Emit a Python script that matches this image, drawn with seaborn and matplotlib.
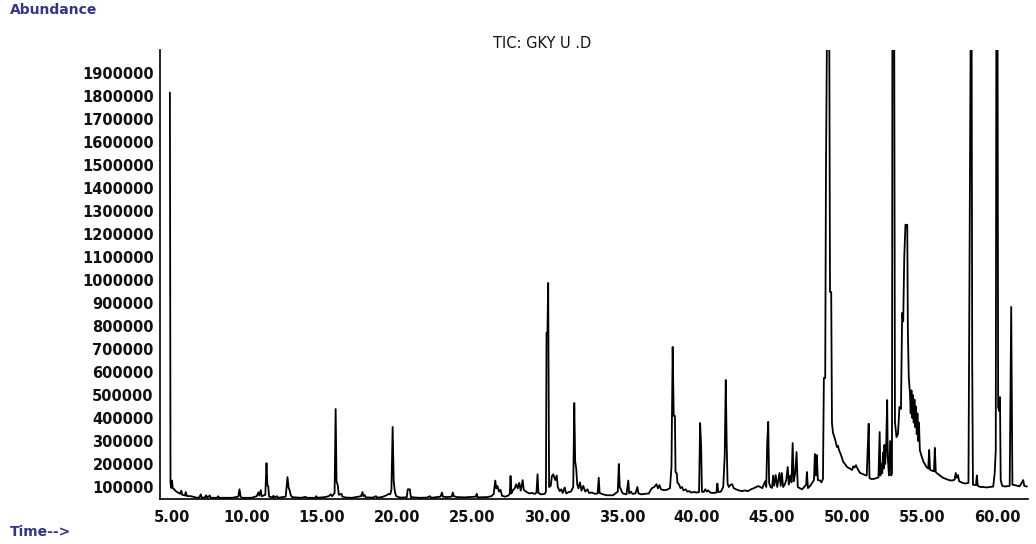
import matplotlib
matplotlib.use("Agg")
import matplotlib.pyplot as plt
import seaborn as sns
import pandas as pd
from matplotlib.ticker import MultipleLocator, FixedLocator

# Total ion chromatogram: (retention time [min], abundance) read as a step trace
seg_solvent = [
    (4.86, 1815e3), (4.90, 118e3), (4.95, 96e3), (5.00, 128e3), (5.05, 95e3),
    (5.15, 90e3), (5.25, 82e3), (5.40, 76e3), (5.55, 70e3), (5.62, 84e3),
    (5.68, 66e3), (5.85, 63e3), (5.92, 78e3), (5.98, 61e3), (6.25, 60e3),
    (6.45, 57e3), (6.60, 54e3), (6.80, 53e3), (6.92, 68e3), (6.98, 53e3),
    (7.20, 55e3), (7.28, 64e3), (7.34, 53e3), (7.52, 63e3), (7.58, 53e3),
    (8.00, 53e3), (8.08, 60e3), (8.14, 53e3), (9.00, 53e3), (9.42, 58e3),
    (9.50, 90e3), (9.57, 60e3), (9.65, 53e3), (10.30, 53e3), (10.65, 60e3),
    (10.75, 76e3), (10.82, 63e3), (10.92, 86e3), (10.98, 60e3), (11.22, 66e3),
    (11.30, 204e3), (11.36, 108e3), (11.42, 102e3), (11.47, 58e3), (11.70, 55e3),
    (11.76, 62e3), (11.82, 54e3), (12.00, 60e3), (12.06, 53e3), (12.58, 58e3),
    (12.70, 143e3), (12.77, 98e3), (12.84, 86e3), (12.92, 64e3), (13.00, 56e3),
    (13.60, 53e3),
]

seg_early = [
    (13.90, 57e3), (14.00, 53e3), (14.55, 53e3), (14.62, 60e3), (14.68, 53e3),
    (15.20, 56e3), (15.45, 60e3), (15.58, 68e3), (15.68, 60e3), (15.84, 74e3),
    (15.91, 439e3), (15.97, 124e3), (16.05, 108e3), (16.12, 66e3), (16.30, 70e3),
    (16.36, 58e3), (16.60, 54e3), (17.00, 53e3), (17.60, 60e3), (17.70, 78e3),
    (17.76, 60e3), (17.85, 65e3), (17.91, 55e3), (18.40, 54e3), (18.60, 60e3),
    (18.66, 54e3), (19.00, 56e3), (19.30, 64e3), (19.45, 70e3), (19.55, 68e3),
    (19.63, 88e3), (19.71, 361e3), (19.78, 128e3), (19.86, 78e3), (19.95, 60e3),
    (20.20, 54e3), (20.65, 55e3), (20.72, 90e3), (20.86, 90e3), (20.92, 56e3),
    (21.50, 53e3), (22.00, 54e3), (22.20, 60e3), (22.28, 53e3), (22.90, 58e3),
    (23.00, 76e3), (23.06, 58e3), (23.30, 56e3), (23.65, 58e3), (23.72, 76e3),
    (23.79, 60e3), (24.00, 56e3), (24.50, 55e3), (25.25, 58e3), (25.32, 70e3),
    (25.38, 55e3), (26.00, 56e3), (26.30, 60e3),
]

seg_middle = [
    (26.45, 70e3), (26.55, 128e3), (26.62, 94e3), (26.70, 104e3), (26.80, 80e3),
    (26.90, 88e3), (27.00, 62e3), (27.20, 58e3), (27.40, 62e3), (27.52, 70e3),
    (27.57, 148e3), (27.63, 72e3), (27.75, 88e3), (27.85, 94e3), (27.95, 112e3),
    (28.05, 94e3), (28.15, 118e3), (28.25, 84e3), (28.38, 130e3), (28.45, 88e3),
    (28.60, 80e3), (28.80, 72e3), (29.00, 74e3), (29.20, 70e3), (29.30, 76e3),
    (29.37, 155e3), (29.43, 74e3), (29.60, 68e3), (29.85, 70e3), (29.93, 80e3),
    (29.97, 770e3), (30.03, 770e3), (30.08, 987e3), (30.14, 100e3), (30.25, 105e3),
    (30.33, 148e3), (30.42, 155e3), (30.55, 130e3), (30.65, 150e3), (30.72, 100e3),
    (30.85, 82e3), (30.95, 90e3), (31.05, 74e3), (31.18, 98e3), (31.28, 72e3),
    (31.45, 78e3), (31.60, 80e3), (31.75, 100e3), (31.82, 465e3), (31.88, 210e3),
    (31.95, 180e3), (32.02, 110e3), (32.10, 94e3), (32.20, 120e3), (32.30, 84e3),
    (32.42, 105e3), (32.55, 80e3), (32.70, 90e3), (32.80, 74e3), (33.00, 76e3),
    (33.20, 70e3), (33.38, 72e3), (33.45, 140e3), (33.51, 74e3), (33.65, 70e3),
    (33.80, 67e3), (34.00, 64e3), (34.40, 64e3), (34.60, 74e3), (34.72, 80e3),
    (34.79, 200e3), (34.85, 100e3), (34.95, 86e3), (35.05, 72e3), (35.30, 68e3),
    (35.42, 128e3), (35.48, 72e3), (35.60, 80e3), (35.70, 70e3), (35.90, 72e3),
    (36.03, 100e3), (36.10, 72e3), (36.30, 68e3), (36.50, 70e3), (36.80, 72e3),
    (36.90, 86e3), (37.00, 95e3), (37.15, 100e3), (37.30, 112e3), (37.40, 94e3),
    (37.50, 108e3), (37.60, 90e3), (37.80, 86e3), (38.00, 88e3), (38.20, 95e3),
]

seg_late = [
    (38.30, 187e3), (38.38, 709e3), (38.45, 409e3), (38.53, 409e3), (38.57, 165e3),
    (38.65, 160e3), (38.70, 118e3), (38.80, 112e3), (38.90, 95e3), (39.00, 100e3),
    (39.10, 85e3), (39.25, 90e3), (39.35, 80e3), (39.50, 82e3), (39.60, 76e3),
    (39.80, 78e3), (40.00, 76e3), (40.14, 78e3), (40.21, 378e3), (40.28, 272e3),
    (40.33, 80e3), (40.45, 78e3), (40.55, 90e3), (40.65, 80e3), (40.75, 85e3),
    (40.90, 75e3), (41.10, 74e3), (41.30, 76e3), (41.36, 115e3), (41.42, 78e3),
    (41.60, 80e3), (41.75, 100e3), (41.85, 235e3), (41.92, 565e3), (41.98, 290e3),
    (42.04, 115e3), (42.12, 100e3), (42.25, 110e3), (42.35, 112e3), (42.45, 95e3),
    (42.60, 90e3), (42.80, 85e3), (43.00, 82e3), (43.20, 85e3), (43.40, 82e3),
    (43.60, 90e3), (43.80, 95e3), (43.95, 100e3), (44.10, 104e3), (44.35, 95e3),
    (44.55, 125e3), (44.62, 100e3), (44.68, 282e3), (44.75, 383e3), (44.81, 118e3),
    (44.90, 100e3), (45.00, 96e3), (45.08, 150e3), (45.15, 105e3), (45.25, 152e3),
    (45.35, 100e3), (45.50, 161e3), (45.58, 105e3), (45.66, 161e3), (45.74, 100e3),
    (45.85, 110e3), (45.95, 130e3), (46.05, 187e3), (46.12, 110e3), (46.22, 150e3),
    (46.30, 120e3), (46.38, 291e3), (46.45, 125e3), (46.55, 160e3), (46.64, 252e3),
    (46.72, 100e3), (46.85, 95e3), (47.00, 90e3), (47.15, 100e3), (47.28, 110e3),
    (47.33, 165e3), (47.40, 95e3), (47.55, 105e3), (47.70, 120e3), (47.80, 130e3),
    (47.86, 243e3), (47.93, 150e3), (47.99, 239e3), (48.06, 130e3), (48.20, 128e3),
    (48.30, 120e3), (48.40, 135e3),
]

seg_major = [
    (48.46, 574e3), (48.55, 574e3), (48.60, 1470e3), (48.67, 2100e3), (48.82, 2100e3),
    (48.87, 948e3), (48.95, 948e3), (49.00, 378e3), (49.07, 335e3), (49.15, 320e3),
    (49.22, 304e3), (49.33, 274e3), (49.40, 280e3), (49.47, 260e3), (49.55, 248e3),
    (49.65, 230e3), (49.75, 209e3), (49.87, 200e3), (50.00, 187e3), (50.20, 180e3),
    (50.35, 174e3), (50.42, 190e3), (50.52, 185e3), (50.60, 195e3), (50.70, 180e3),
    (50.87, 161e3), (51.00, 158e3), (51.20, 152e3), (51.32, 150e3), (51.38, 262e3),
    (51.45, 375e3), (51.50, 140e3), (51.60, 135e3), (51.80, 135e3), (52.00, 140e3),
    (52.10, 142e3), (52.18, 339e3), (52.23, 150e3), (52.30, 200e3), (52.35, 160e3),
    (52.40, 250e3), (52.45, 180e3), (52.50, 283e3), (52.55, 200e3), (52.62, 290e3),
    (52.68, 478e3), (52.72, 230e3), (52.80, 150e3), (52.88, 300e3), (52.95, 150e3),
    (53.00, 160e3), (53.03, 2100e3), (53.15, 2100e3), (53.20, 383e3), (53.30, 317e3),
    (53.40, 330e3), (53.50, 448e3), (53.60, 440e3), (53.68, 857e3), (53.75, 820e3),
    (53.82, 1100e3), (53.90, 1240e3), (54.02, 1240e3), (54.06, 783e3), (54.12, 578e3),
    (54.20, 509e3), (54.25, 420e3), (54.30, 520e3), (54.35, 400e3), (54.40, 500e3),
    (54.45, 380e3), (54.50, 480e3), (54.55, 360e3), (54.60, 450e3), (54.65, 330e3),
    (54.70, 420e3), (54.75, 300e3), (54.80, 380e3), (54.86, 260e3), (54.95, 239e3),
]

seg_tail = [
    (55.10, 210e3), (55.30, 187e3), (55.42, 180e3), (55.48, 261e3), (55.54, 175e3),
    (55.70, 170e3), (55.80, 168e3), (55.86, 270e3), (55.92, 165e3), (56.00, 160e3),
    (56.20, 150e3), (56.40, 140e3), (56.60, 135e3), (56.80, 130e3), (57.00, 128e3),
    (57.18, 132e3), (57.25, 161e3), (57.32, 140e3), (57.40, 152e3), (57.48, 125e3),
    (57.70, 118e3), (57.90, 115e3), (58.10, 118e3), (58.18, 1170e3), (58.25, 2100e3),
    (58.31, 2100e3), (58.35, 643e3), (58.40, 110e3), (58.60, 108e3), (58.66, 150e3),
    (58.72, 105e3), (58.90, 100e3), (59.10, 100e3), (59.30, 98e3), (59.55, 100e3),
    (59.75, 102e3), (59.85, 160e3), (59.92, 260e3), (59.96, 2100e3), (60.04, 2100e3),
    (60.08, 448e3), (60.15, 430e3), (60.20, 491e3), (60.25, 130e3), (60.35, 105e3),
    (60.55, 102e3), (60.85, 105e3), (60.95, 883e3), (61.03, 110e3), (61.20, 108e3),
    (61.50, 103e3), (61.60, 112e3), (61.75, 130e3), (61.82, 105e3), (62.00, 102e3),
]

y_ticks = [100000 * k for k in range(1, 20)]
x_ticks = [5, 10, 15, 20, 25, 30, 35, 40, 45, 50, 55, 60]

trace = seg_solvent + seg_early + seg_middle + seg_late + seg_major + seg_tail
df = pd.DataFrame(trace, columns=["time", "abundance"])

sns.set_style("white")
plt.rcParams["font.family"] = ["DejaVu Sans"]

W, H = 1036, 544
fig = plt.figure(figsize=(W / 100, H / 100), dpi=100)
ax = fig.add_axes([160 / W, 1 - 499 / H, (1028 - 160) / W, (499 - 50) / H])

sns.lineplot(data=df, x="time", y="abundance", ax=ax, color="black",
             linewidth=1.3, estimator=None, sort=False)

ax.set_xlim(4.2, 62.07)
ax.set_ylim(47800, 2000000)
ax.set_xlabel("")
ax.set_ylabel("")

for side in ("top", "right"):
    ax.spines[side].set_visible(False)
for side in ("left", "bottom"):
    ax.spines[side].set_color("black")
    ax.spines[side].set_linewidth(1.2)

ax.xaxis.set_major_locator(FixedLocator(x_ticks))
ax.xaxis.set_minor_locator(MultipleLocator(1))
ax.set_xticklabels([f"{v:.2f}" for v in x_ticks])
ax.yaxis.set_major_locator(FixedLocator(y_ticks))
ax.yaxis.set_minor_locator(MultipleLocator(50000))
ax.set_yticklabels([str(v) for v in y_ticks])

ax.tick_params(axis="x", which="major", direction="out", length=6, width=1,
               color="black", pad=2, labelsize=10.5)
ax.tick_params(axis="x", which="minor", direction="out", length=3, width=1,
               color="black")
ax.tick_params(axis="y", which="both", direction="out", length=2.5, width=1,
               color="black", pad=2, labelsize=10.5)
for lab in ax.get_xticklabels() + ax.get_yticklabels():
    lab.set_fontweight("bold")
    lab.set_color("#111111")

label_color = "#34348c"
fig.text(10 / W, 1 - 10 / H, "Abundance", ha="left", va="center",
         fontsize=10, fontweight="bold", color=label_color)
fig.text(10 / W, 1 - 532 / H, "Time-->", ha="left", va="center",
         fontsize=10, fontweight="bold", color=label_color)
fig.text(542 / W, 1 - 44 / H, "TIC: GKY U .D", ha="center", va="center",
         fontsize=10.5, color="#111111")

fig.savefig("out.png", dpi=100, facecolor="white")
